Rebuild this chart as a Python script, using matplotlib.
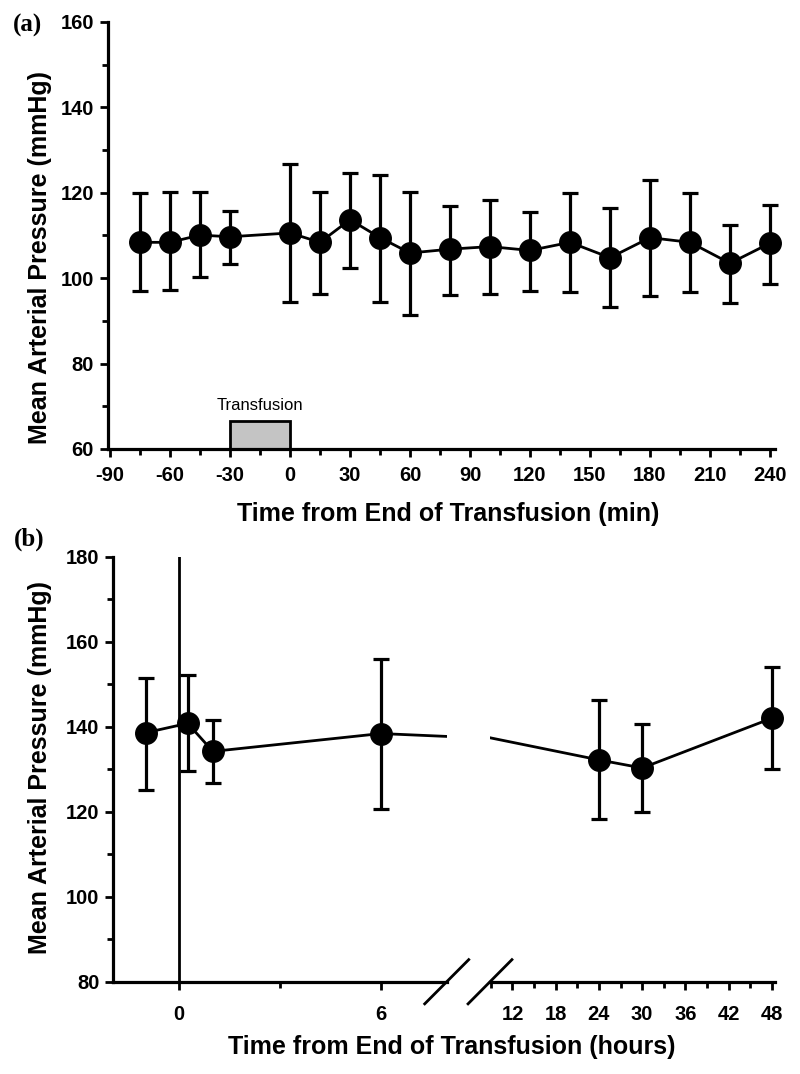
import matplotlib
matplotlib.use('Agg')
import matplotlib.pyplot as plt
from matplotlib.ticker import MultipleLocator, FixedLocator

plt.rcParams['font.family'] = ['Liberation Sans', 'DejaVu Sans']
plt.rcParams['axes.unicode_minus'] = False

# Panel (a): minutes from end of transfusion
a_time = [-75, -60, -45, -30, 0, 15, 30, 45, 60, 80, 100, 120, 140, 160, 180, 200, 220, 240]
a_mean = [108.4, 108.4, 110.1, 109.7, 110.6, 108.4, 113.7, 109.5, 105.9, 106.8, 107.4, 106.5,
          108.4, 104.8, 109.5, 108.4, 103.5, 108.2]
a_upper = [119.9, 120.1, 120.1, 115.7, 126.7, 120.2, 124.6, 124.2, 120.2, 116.8, 118.4, 115.4,
           119.9, 116.4, 123.0, 119.9, 112.5, 117.2]
a_lower = [97.0, 97.3, 100.2, 103.3, 94.5, 96.3, 102.3, 94.4, 91.4, 96.1, 96.3, 97.0,
           96.7, 93.2, 95.9, 96.7, 94.3, 98.7]
transfusion_start = -30
transfusion_end = 0
transfusion_top = 66.6

# Panel (b): hours from end of transfusion
b_time = [-1, 0.25, 1, 6, 24, 30, 48]
b_mean = [138.6, 140.8, 134.2, 138.4, 132.2, 130.3, 142.0]
b_upper = [151.5, 152.1, 141.7, 156.0, 146.3, 140.7, 154.0]
b_lower = [125.2, 129.6, 126.7, 120.7, 118.3, 119.9, 130.0]

LW = 2.3
MS = 15.5
CAP = 6
LABEL_FONT = dict(fontsize=18, fontweight='bold')

fig = plt.figure(figsize=(8, 10.74), dpi=100)


def style_axis(ax, pad_x):
    for s in ['top', 'right']:
        ax.spines[s].set_visible(False)
    for s in ['left', 'bottom']:
        ax.spines[s].set_linewidth(LW)
    ax.tick_params(which='major', direction='out', length=6, width=2, labelsize=14.5)
    ax.tick_params(which='minor', direction='out', length=4.5, width=2)
    ax.tick_params(axis='x', pad=pad_x)
    ax.tick_params(axis='y', pad=4)
    for lab in ax.get_xticklabels() + ax.get_yticklabels():
        lab.set_fontweight('bold')


def draw_series(ax, x, mean, lower, upper, xmin, xmax):
    # connecting line is clipped to the axes, markers and bars are not
    ax.plot(x, mean, color='black', lw=2, zorder=3)
    keep = [i for i, v in enumerate(x) if xmin <= v <= xmax]
    xs = [x[i] for i in keep]
    ms = [mean[i] for i in keep]
    err = [[mean[i] - lower[i] for i in keep], [upper[i] - mean[i] for i in keep]]
    ax.errorbar(xs, ms, yerr=err, fmt='o', color='black', ms=MS,
                elinewidth=LW, capsize=CAP, capthick=LW, zorder=4, clip_on=False)
    ax.set_xlim(xmin, xmax)


# ---- panel (a)
ax1 = fig.add_axes([0.135, 0.58194, 0.83375, 0.39758])
draw_series(ax1, a_time, a_mean, a_lower, a_upper, -91, 242.5)
ax1.bar(transfusion_start, transfusion_top - 60, width=transfusion_end - transfusion_start,
        bottom=60, align='edge', color='#c4c4c4', edgecolor='black', linewidth=2, zorder=2)
ax1.text((transfusion_start + transfusion_end) / 2, 70.1, 'Transfusion', ha='center',
         va='center', fontsize=12)
ax1.set_ylim(60, 160)
ax1.xaxis.set_major_locator(MultipleLocator(30))
ax1.xaxis.set_minor_locator(MultipleLocator(15))
ax1.yaxis.set_major_locator(MultipleLocator(20))
ax1.yaxis.set_minor_locator(MultipleLocator(10))
style_axis(ax1, 6)

# ---- panel (b), broken x axis
ax2 = fig.add_axes([0.1416, 0.0859, 0.4168, 0.3957])
ax3 = fig.add_axes([0.6125, 0.0859, 0.35625, 0.3957], sharey=ax2)
draw_series(ax2, b_time, b_mean, b_lower, b_upper, -1.964, 7.96)
draw_series(ax3, b_time, b_mean, b_lower, b_upper, 8.88, 48.45)
ax2.axvline(0, color='black', lw=2, zorder=1)
ax2.set_ylim(80, 180)
ax2.xaxis.set_major_locator(FixedLocator([0, 6]))
ax2.xaxis.set_minor_locator(FixedLocator([3]))
ax2.yaxis.set_major_locator(MultipleLocator(20))
ax2.yaxis.set_minor_locator(MultipleLocator(10))
ax3.xaxis.set_major_locator(FixedLocator([12, 18, 24, 30, 36, 42, 48]))
ax3.xaxis.set_minor_locator(MultipleLocator(3))
style_axis(ax2, 11)
style_axis(ax3, 11)
ax3.spines['left'].set_visible(False)
ax3.tick_params(axis='y', which='both', left=False, labelleft=False)

# break marks
dy = 0.052
dx = 0.066
ax2.plot([1 - dx, 1 + dx], [-dy, dy], transform=ax2.transAxes, color='black', lw=2, clip_on=False)
dx = 0.077
ax3.plot([-dx, dx], [-dy, dy], transform=ax3.transAxes, color='black', lw=2, clip_on=False)

# labels
fig.text(0.05, 0.7607, 'Mean Arterial Pressure (mmHg)', rotation=90, ha='center', va='center', **LABEL_FONT)
fig.text(0.05, 0.2858, 'Mean Arterial Pressure (mmHg)', rotation=90, ha='center', va='center', **LABEL_FONT)
fig.text(0.56, 0.5214, 'Time from End of Transfusion (min)', ha='center', va='center', **LABEL_FONT)
fig.text(0.565, 0.0251, 'Time from End of Transfusion (hours)', ha='center', va='center', **LABEL_FONT)
fig.text(0.034, 0.976, '(a)', family='Liberation Serif', fontsize=18, fontweight='bold', ha='center', va='center')
fig.text(0.036, 0.498, '(b)', family='Liberation Serif', fontsize=18, fontweight='bold', ha='center', va='center')

fig.savefig('out.png', dpi=100)
